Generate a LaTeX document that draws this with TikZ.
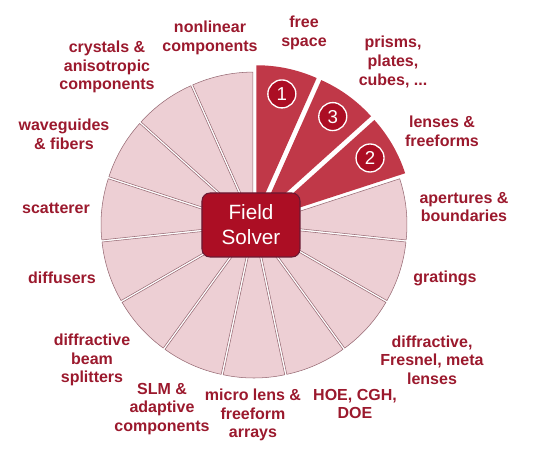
\documentclass[tikz,border=0pt]{standalone}
\usepackage{fontspec}
\setmainfont{Liberation Sans}

\definecolor{wine}{RGB}{155,25,45}
\definecolor{solverred}{RGB}{172,14,36}
\definecolor{solveredge}{RGB}{105,25,50}
\definecolor{hotred}{RGB}{192,56,72}
\definecolor{softpink}{RGB}{237,207,212}
\definecolor{softedge}{RGB}{150,105,115}

\begin{document}
\begin{tikzpicture}[
  x=0.75pt, y=0.75pt,
  every node/.style={font=\fontsize{12}{14}\selectfont\bfseries},
  topic/.style={text=wine, align=center, inner sep=0pt},
  wedge/.style={fill=softpink, draw=softedge, line width=0.4pt},
  hotwedge/.style={fill=hotred},
  numbadge/.style={circle, fill=solverred, draw=white, line width=1pt,
                   text=white, minimum size=21pt, inner sep=0pt,
                   font=\fontsize{14}{14}\selectfont},
  solver/.style={rectangle, rounded corners=6pt, fill=solverred,
                 draw=solveredge, line width=0.8pt, text=white,
                 minimum width=73.5pt, minimum height=48pt, align=center,
                 font=\fontsize{15.5}{18.75}\selectfont}
]
  \useasboundingbox (-254,-243) rectangle (283,225);

  % Pink sectors, each pushed a little away from the centre
  \filldraw[wedge, shift={(102:5)}] (0,0) -- (90:148) arc[start angle=90, end angle=114, radius=148] -- cycle;
  \filldraw[wedge, shift={(126:5)}] (0,0) -- (114:148) arc[start angle=114, end angle=138, radius=148] -- cycle;
  \filldraw[wedge, shift={(150:5)}] (0,0) -- (138:148) arc[start angle=138, end angle=162, radius=148] -- cycle;
  \filldraw[wedge, shift={(174:5)}] (0,0) -- (162:148) arc[start angle=162, end angle=186, radius=148] -- cycle;
  \filldraw[wedge, shift={(198:5)}] (0,0) -- (186:148) arc[start angle=186, end angle=210, radius=148] -- cycle;
  \filldraw[wedge, shift={(222:5)}] (0,0) -- (210:148) arc[start angle=210, end angle=234, radius=148] -- cycle;
  \filldraw[wedge, shift={(246:5)}] (0,0) -- (234:148) arc[start angle=234, end angle=258, radius=148] -- cycle;
  \filldraw[wedge, shift={(270:5)}] (0,0) -- (258:148) arc[start angle=258, end angle=282, radius=148] -- cycle;
  \filldraw[wedge, shift={(294:5)}] (0,0) -- (282:148) arc[start angle=282, end angle=306, radius=148] -- cycle;
  \filldraw[wedge, shift={(318:5)}] (0,0) -- (306:148) arc[start angle=306, end angle=330, radius=148] -- cycle;
  \filldraw[wedge, shift={(342:5)}] (0,0) -- (330:148) arc[start angle=330, end angle=354, radius=148] -- cycle;
  \filldraw[wedge, shift={(6:5)}] (0,0) -- (354:148) arc[start angle=354, end angle=378, radius=148] -- cycle;

  % Highlighted sectors, pushed further out
  \fill[hotwedge, shift={(78:12)}] (0,0) -- (66:148) arc[start angle=66, end angle=90, radius=148] -- cycle;
  \fill[hotwedge, shift={(54:12)}] (0,0) -- (42:148) arc[start angle=42, end angle=66, radius=148] -- cycle;
  \fill[hotwedge, shift={(30:12)}] (0,0) -- (18:148) arc[start angle=18, end angle=42, radius=148] -- cycle;

  \node[numbadge] (one) at (78:134) {1};
  \node[numbadge] (three) at (54:134) {3};
  \node[numbadge] (two) at (30:134) {2};

  % Centre box
  \node[solver] (solver) at (-3,0) {Field\\Solver};

  % Labels round the circle
  \node[topic] (free) at (50,192) {free\\space};
  \node[topic] (prisms) at (139,163) {prisms,\\plates,\\cubes, ...};
  \node[topic] (lenses) at (188,94) {lenses \&\\freeforms};
  \node[topic] (apertures) at (210,18) {apertures \&\\boundaries};
  \node[topic] (gratings) at (191,-53) {gratings};
  \node[topic] (fresnel) at (178,-135) {diffractive,\\Fresnel, meta\\lenses};
  \node[topic] (hoe) at (101,-179) {HOE, CGH,\\DOE};
  \node[topic] (microlens) at (-1,-190) {micro lens \&\\freeform\\arrays};
  \node[topic] (slm) at (-92,-184) {SLM \&\\adaptive\\components};
  \node[topic] (splitters) at (-162,-135) {diffractive\\beam\\splitters};
  \node[topic] (diffusers) at (-192,-53) {diffusers};
  \node[topic] (scatterer) at (-198,17) {scatterer};
  \node[topic] (waveguides) at (-190,91) {waveguides\\\& fibers};
  \node[topic] (crystals) at (-147,158) {crystals \&\\anisotropic\\components};
  \node[topic] (nonlinear) at (-44,187) {nonlinear\\components};
\end{tikzpicture}
\end{document}
